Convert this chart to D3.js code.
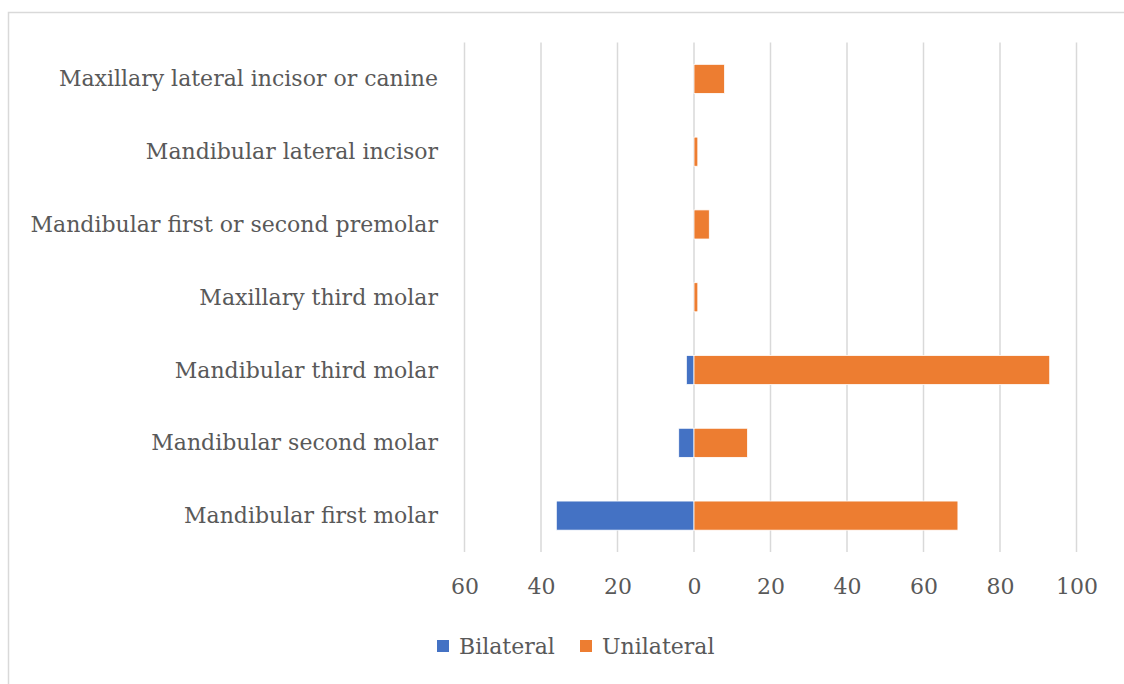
<!DOCTYPE html>
<html>
<head>
<meta charset="utf-8">
<script src="https://cdn.jsdelivr.net/npm/d3@7"></script>
<style>
  html, body { margin: 0; padding: 0; background: #fff; }
  svg { display: block; }
  text { font-family: "DejaVu Serif", "Liberation Serif", serif; fill: #595959; }
</style>
</head>
<body>
<svg id="chart" width="1124" height="684"></svg>
<script>
const categories = [
  "Maxillary lateral incisor or canine",
  "Mandibular lateral incisor",
  "Mandibular first or second premolar",
  "Maxillary third molar",
  "Mandibular third molar",
  "Mandibular second molar",
  "Mandibular first molar"
];
const bilateral = [0, 0, 0, 0, 2, 4, 36];
const unilateral = [8, 1, 4, 1, 93, 14, 69];
const tickValues = [-60, -40, -20, 0, 20, 40, 60, 80, 100];
const seriesNames = ["Bilateral", "Unilateral"];
const colors = ["#4472C4", "#ED7D31"];

const svg = d3.select("#chart");
const W = 1124, H = 684;
const FS = 22;

// outer frame
svg.append("rect")
  .attr("x", 8.5).attr("y", 12.5)
  .attr("width", W + 10).attr("height", H + 10)
  .attr("fill", "none").attr("stroke", "#d9d9d9").attr("stroke-width", 1.5);

const x = d3.scaleLinear().domain([-60, 100]).range([464.5, 1076.5]);
const y = d3.scaleBand().domain(categories).range([42.5, 552]).paddingInner(0.6).paddingOuter(0.3);

// gridlines
svg.append("g").selectAll("line").data(tickValues).join("line")
  .attr("x1", d => x(d)).attr("x2", d => x(d))
  .attr("y1", 42.5).attr("y2", 552)
  .attr("stroke", "#d9d9d9").attr("stroke-width", 1.5);

// bars
const rows = categories.map((c, i) => ({ c, b: bilateral[i], u: unilateral[i] }));
svg.append("g").selectAll("rect").data(rows.filter(d => d.b > 0)).join("rect")
  .attr("x", d => x(-d.b)).attr("width", d => x(0) - x(-d.b))
  .attr("y", d => y(d.c)).attr("height", y.bandwidth())
  .attr("fill", colors[0]).attr("stroke", "#ffffff").attr("stroke-width", 0.8);
svg.append("g").selectAll("rect").data(rows).join("rect")
  .attr("x", x(0)).attr("width", d => x(d.u) - x(0))
  .attr("y", d => y(d.c)).attr("height", y.bandwidth())
  .attr("fill", colors[1]).attr("stroke", "#ffffff").attr("stroke-width", 0.8);

// category labels
svg.append("g").selectAll("text").data(categories).join("text")
  .attr("x", 438).attr("y", d => y(d) + y.bandwidth() / 2)
  .attr("text-anchor", "end").attr("dominant-baseline", "central")
  .attr("font-size", FS).text(d => d);

// x axis tick labels
const xAxis = d3.axisBottom(x).tickValues(tickValues).tickSize(0).tickPadding(0)
  .tickFormat(d => String(Math.abs(d)));
const gx = svg.append("g").attr("transform", "translate(0,578)").call(xAxis);
gx.select(".domain").remove();
gx.selectAll("text").attr("font-size", FS).attr("fill", "#595959")
  .style("font-family", '"DejaVu Serif", serif');

// legend
const legX = [437, 580];
const leg = svg.append("g").selectAll("g").data(seriesNames).join("g")
  .attr("transform", (d, i) => `translate(${legX[i]},646)`);
leg.append("rect").attr("x", 0).attr("y", -6).attr("width", 12).attr("height", 12)
  .attr("fill", (d, i) => colors[i]);
leg.append("text").attr("x", 22).attr("y", 0).attr("dominant-baseline", "central")
  .attr("font-size", FS).text(d => d);
</script>
</body>
</html>
